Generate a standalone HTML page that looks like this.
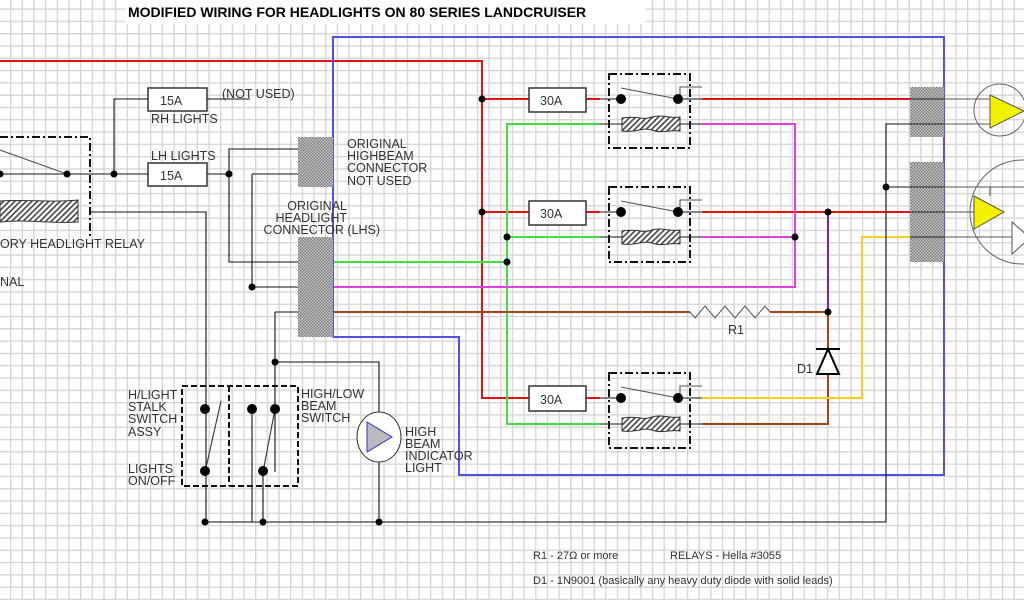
<!DOCTYPE html>
<html><head><meta charset="utf-8"><style>
html,body{margin:0;padding:0;background:#fff;}
svg{display:block;font-family:"Liberation Sans",sans-serif;}
text{font-size:12.5px;fill:#333;}
</style></head><body>
<svg width="1024" height="600" viewBox="0 0 1024 600" xmlns="http://www.w3.org/2000/svg">
<defs>
<pattern id="g" x="10" y="8.4" width="11.67" height="12.3" patternUnits="userSpaceOnUse">
<rect x="0" y="0" width="1.3" height="12.3" fill="#d4d4d4"/>
<rect x="0" y="0" width="11.67" height="1.3" fill="#d4d4d4"/>
</pattern>
<pattern id="h" width="4" height="4" patternUnits="userSpaceOnUse" patternTransform="rotate(45)">
<rect width="4" height="4" fill="#fff"/><rect width="1.6" height="4" fill="#444"/>
</pattern>
<pattern id="x" width="3" height="3" patternUnits="userSpaceOnUse">
<rect width="3" height="3" fill="#ccc"/><rect width="1.5" height="1.5" fill="#777"/><rect x="1.5" y="1.5" width="1.5" height="1.5" fill="#777"/>
</pattern>
<g id="coil"><path d="M0,-6 C15,-9 20,-3 30,-7 C40,-10 50,-5 58,-7 L58,7 C50,5 40,10 30,6 C20,3 15,9 0,7 Z" fill="url(#h)" stroke="#333" stroke-width="1"/></g>
</defs>
<rect width="1024" height="600" fill="#fff"/>
<rect width="1024" height="600" fill="url(#g)"/>
<rect x="125" y="0" width="520" height="24" fill="#fff"/>
<text x="128" y="17" style="font-size:14px;font-weight:bold;fill:#000">MODIFIED WIRING FOR HEADLIGHTS ON 80 SERIES LANDCRUISER</text>

<g fill="none" stroke-width="2">
<path d="M0,61 H482 V398 H529 M482,99 H529 M482,212 H529 M586,99 H600 M586,212 H600 M586,398 H600 M702,99 H910 M702,212 H910" stroke="#e81010"/>
<path d="M333,262 H507 V124 H600 M507,237 H600 M507,262 V424 H600" stroke="#3ee03e"/>
<path d="M702,124 H795 V287 H333 M702,237 H795" stroke="#e040e0"/>
<path d="M333,312 H690 M770,312 H828 V424 H702" stroke="#b04010"/>
<path d="M828,212 V312" stroke="#8020a0"/>
<path d="M702,398 H862 V237 H910" stroke="#ffcc20"/>
<path d="M333,37 H944 V475 H459 V337 H333 Z" stroke="#5050f0"/>
</g>
<path d="M690,312 L695,318 L705,306 L715,318 L725,306 L735,318 L745,306 L755,318 L765,306 L770,312" fill="none" stroke="#555" stroke-width="1"/>
<text x="728" y="334">R1</text>
<path d="M816,349 H840 M828,349 L817,374 H839 Z" fill="#fff" stroke="#000" stroke-width="2"/>
<text x="797" y="373">D1</text>

<g fill="none" stroke="#111" stroke-width="1.1">
<path d="M0,174 H148 M114,174 V99 H148 M207,99 H250 M207,174 H229 V149 H299 M229,174 V262 H299 M252,174 H299 M252,174 V287 H299 M275,312 H299 M275,312 V472 M90,212 H206 V522 M275,362 H379 V415 M379,460 V522 M252,409 V522 M263,472 V522 M205,522 H886 V124 H910 M886,187 H910"/>
<path d="M944,99 H990 M944,124 H990 M944,187 H1024 M944,212 H974 M944,237 H1012 M990,187 V196" stroke="#555"/>
<path d="M600,99 H621 M600,212 H621 M600,398 H621 M600,124 H622 M600,237 H622 M600,424 H622 M680,99 H702 M680,212 H702 M680,398 H702 M680,124 H702 M680,237 H702 M680,424 H702"/>
<path d="M621,88 L678,99 M680,99 V87 H702 M621,201 L678,212 M680,212 V200 H702 M621,387 L678,398 M680,398 V386 H702 M0,150 L67,174" stroke="#555"/>
<path d="M205,472 L221,401 M263,472 L275,409" stroke="#333"/>
</g>
<g fill="#000">
<circle cx="0" cy="174" r="3.5"/><circle cx="67" cy="174" r="3.5"/><circle cx="114" cy="174" r="3.5"/><circle cx="229" cy="174" r="3.5"/><circle cx="252" cy="287" r="3.5"/><circle cx="275" cy="362" r="3.5"/>
<circle cx="482" cy="99" r="3.5"/><circle cx="482" cy="212" r="3.5"/><circle cx="507" cy="237" r="3.5"/><circle cx="507" cy="262" r="3.5"/><circle cx="795" cy="237" r="3.5"/><circle cx="828" cy="212" r="3.5"/><circle cx="828" cy="312" r="3.5"/><circle cx="886" cy="187" r="3.5"/>
<circle cx="205" cy="522" r="3.5"/><circle cx="263" cy="522" r="3.5"/><circle cx="379" cy="522" r="3.5"/>
<circle cx="205" cy="409" r="5"/><circle cx="252" cy="409" r="5"/><circle cx="275" cy="409" r="5"/><circle cx="205" cy="471" r="5"/><circle cx="263" cy="471" r="5"/>
<circle cx="621" cy="99" r="5"/><circle cx="678" cy="99" r="5"/><circle cx="621" cy="212" r="5"/><circle cx="678" cy="212" r="5"/><circle cx="621" cy="398" r="5"/><circle cx="678" cy="398" r="5"/>
</g>
<use href="#coil" x="622" y="124"/><use href="#coil" x="622" y="237"/><use href="#coil" x="622" y="424"/>
<path d="M0,201 C30,199 50,203 78,200 L78,222 C50,224 30,219 0,222 Z" fill="url(#h)" stroke="#333"/>
<g fill="none" stroke="#111" stroke-width="2" stroke-dasharray="8,3,2,3">
<rect x="609" y="74" width="81" height="74"/><rect x="609" y="187" width="81" height="75"/><rect x="609" y="373" width="81" height="75"/>
<path d="M0,137 H90 V237"/>
</g>
<g fill="none" stroke="#111" stroke-width="2" stroke-dasharray="6,3">
<rect x="182" y="386" width="116" height="100"/><path d="M229,386 V486"/>
</g>
<g fill="#fff" stroke="#333" stroke-width="1.5">
<rect x="148" y="88" width="59" height="23"/><rect x="148" y="163" width="59" height="23"/>
<rect x="529" y="88" width="57" height="24"/><rect x="529" y="201" width="57" height="24"/><rect x="529" y="386" width="57" height="25"/>
</g>
<text x="160" y="105">15A</text><text x="160" y="180">15A</text>
<text x="540" y="105">30A</text><text x="540" y="218">30A</text><text x="540" y="404">30A</text>
<g fill="url(#x)">
<rect x="298" y="137" width="35" height="50"/><rect x="298" y="237" width="35" height="100"/>
<rect x="910" y="87" width="34" height="50"/><rect x="910" y="162" width="34" height="100"/>
</g>
<g stroke="#222" stroke-width="1"><path d="M910,99 H944 M910,124 H944 M910,187 H944 M910,212 H944 M910,237 H944"/></g>
<circle cx="1000" cy="110" r="26" fill="none" stroke="#666"/>
<path d="M990,95 L1024,111 L990,128 Z" fill="#f4f000" stroke="#555"/>
<circle cx="1022" cy="212" r="52" fill="none" stroke="#666"/>
<path d="M974,196 L1004,212 L974,229 Z" fill="#f4f000" stroke="#555"/>
<path d="M1012,222 L1030,238 L1012,254 Z" fill="#fff" stroke="#555"/>
<ellipse cx="379" cy="437" rx="22" ry="25" fill="#fff" stroke="#333"/>
<path d="M367,422 L392,437 L367,452 Z" fill="#bbb" stroke="#3030d0"/>
<text x="222" y="98">(NOT USED)</text>
<text x="151" y="123">RH LIGHTS</text>
<text x="151" y="160">LH LIGHTS</text>
<text x="0" y="248">ORY HEADLIGHT RELAY</text>
<text x="0" y="286">NAL</text>
<text x="347" y="148">ORIGINAL</text><text x="347" y="160">HIGHBEAM</text><text x="347" y="172">CONNECTOR</text><text x="347" y="185">NOT USED</text>
<text x="347" y="210" text-anchor="end">ORIGINAL</text><text x="347" y="222" text-anchor="end">HEADLIGHT</text><text x="380" y="234" text-anchor="end">CONNECTOR (LHS)</text>
<text x="128" y="399">H/LIGHT</text><text x="128" y="411">STALK</text><text x="128" y="423">SWITCH</text><text x="128" y="436">ASSY</text>
<text x="128" y="473">LIGHTS</text><text x="128" y="485">ON/OFF</text>
<text x="301" y="398">HIGH/LOW</text><text x="301" y="410">BEAM</text><text x="301" y="422">SWITCH</text>
<text x="405" y="436">HIGH</text><text x="405" y="448">BEAM</text><text x="405" y="460">INDICATOR</text><text x="405" y="472">LIGHT</text>
<text x="533" y="559" style="font-size:11px">R1 - 27Ω or more</text>
<text x="670" y="559" style="font-size:11px">RELAYS - Hella #3055</text>
<text x="533" y="584" style="font-size:11px">D1 - 1N9001 (basically any heavy duty diode with solid leads)</text>
</svg>
</body></html>
